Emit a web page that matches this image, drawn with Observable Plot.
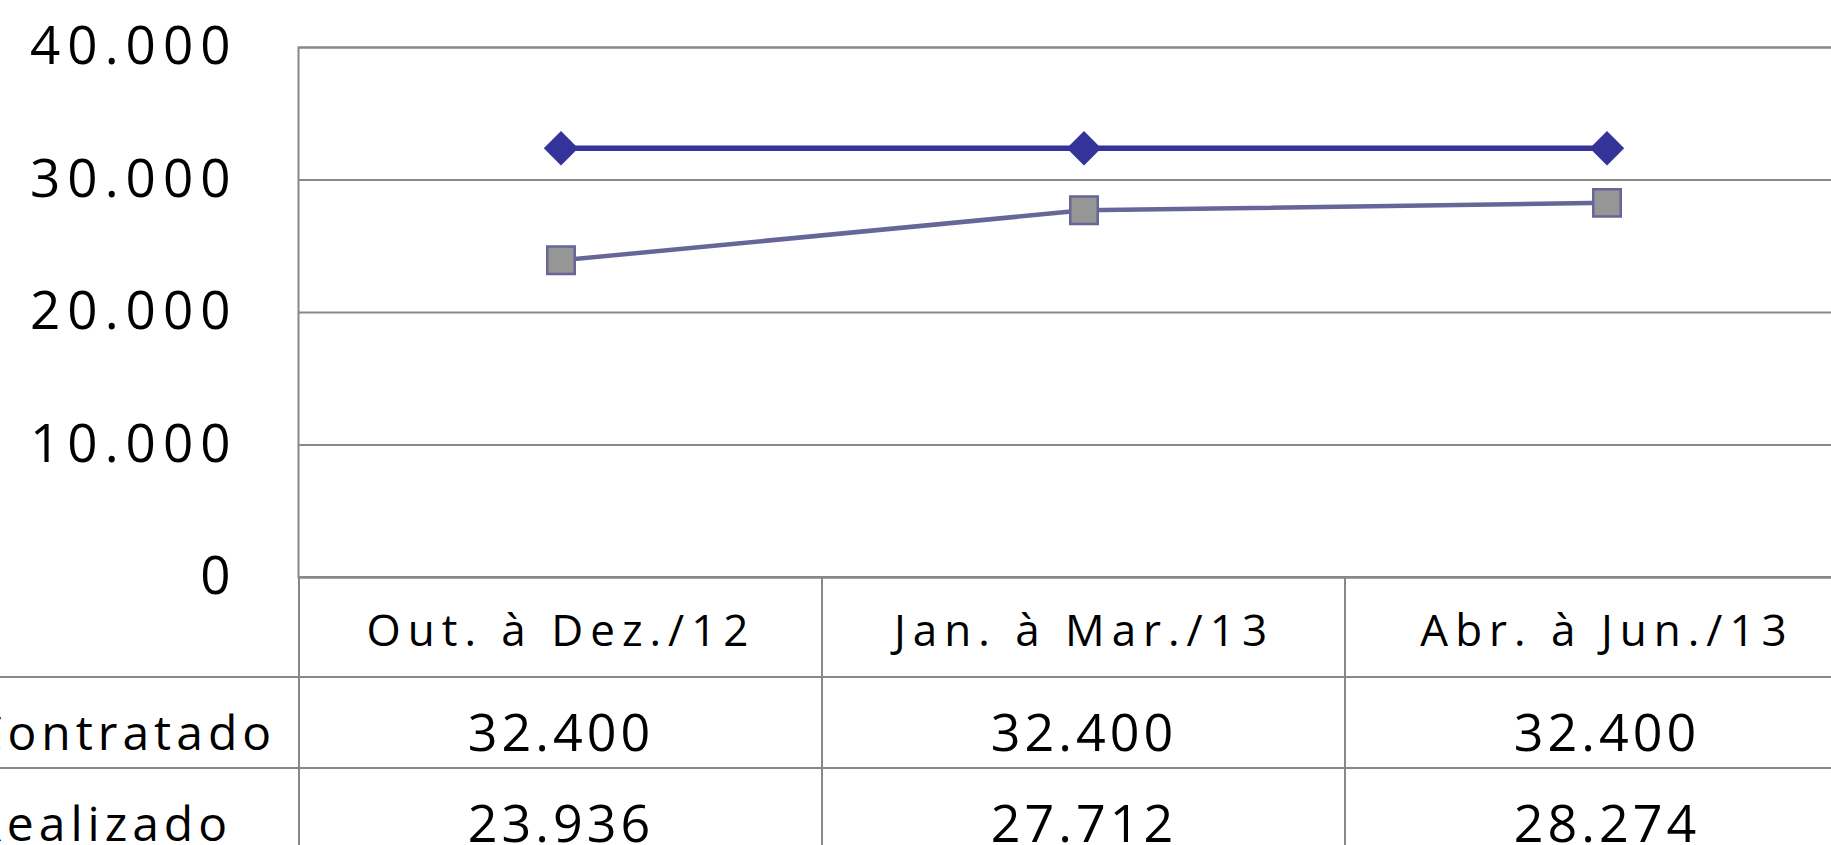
<!DOCTYPE html>
<html>
<head>
<meta charset="utf-8">
<script src="https://cdn.jsdelivr.net/npm/d3@7"></script>
<script src="https://cdn.jsdelivr.net/npm/@observablehq/plot@0.6"></script>
<style>
  html, body { margin: 0; padding: 0; background: #fff; overflow: hidden; }
  #wrap { position: relative; width: 1831px; height: 845px; overflow: hidden; background: #fff; }
  #wrap svg { position: absolute; left: 0; top: 0; max-width: none !important; }
  g[aria-label="y-axis tick label"] { letter-spacing: 7px; }
  g[font-size="44"] { letter-spacing: 7px; }
  g[font-size="52"] { letter-spacing: 4px; }
  g[font-size="48"] { letter-spacing: 5px; }
</style>
</head>
<body>
<div id="wrap"></div>
<script>
// ---- data ----
const categories = ["Out. à Dez./12", "Jan. à Mar./13", "Abr. à Jun./13"];
const seriesNames = ["Contratado", "Realizado"];
const contratado = [32400, 32400, 32400];
const realizado = [23936, 27712, 28274];
const yTicks = [0, 10000, 20000, 30000, 40000];

// ---- formatting (pt-BR) ----
const locale = d3.formatLocale({decimal: ",", thousands: ".", grouping: [3], currency: ["R$", ""]});
const fmt = locale.format(",.0f");

// ---- layout ----
const svgWidth = 1880;
const plotLeft = 298, plotRight = 1869, plotTop = 47, plotBottom = 577;
const colW = (plotRight - plotLeft) / categories.length;
const colors = {Contratado: "#333399", Realizado: "#666699"};
const gridColor = "#888888";

const seriesValues = {Contratado: contratado, Realizado: realizado};
const points = seriesNames.flatMap(s => categories.map((c, i) => ({series: s, cat: c, value: seriesValues[s][i]})));

const baseStyle = {fontFamily: "Open Sans", color: "#000", background: "transparent", overflow: "visible", maxWidth: "none"};

const chart = Plot.plot({
  width: svgWidth,
  height: plotBottom + 23,
  marginLeft: plotLeft,
  marginRight: svgWidth - plotRight,
  marginTop: plotTop,
  marginBottom: 23,
  style: {...baseStyle, fontSize: "53px"},
  x: {type: "band", domain: categories, padding: 0, axis: null},
  y: {domain: [0, 40000], ticks: yTicks, tickFormat: fmt, tickSize: 0, tickPadding: 61, label: null},
  marks: [
    Plot.ruleY(yTicks, {stroke: gridColor, strokeWidth: 2}),
    Plot.frame({stroke: gridColor, strokeWidth: 2}),
    Plot.line(points.filter(d => d.series === "Contratado"), {x: "cat", y: "value", stroke: colors.Contratado, strokeWidth: 5.5}),
    Plot.line(points.filter(d => d.series === "Realizado"), {x: "cat", y: "value", stroke: colors.Realizado, strokeWidth: 4.5}),
    Plot.dot(points.filter(d => d.series === "Contratado"), {x: "cat", y: "value", symbol: "diamond2", r: 15.5, fill: colors.Contratado, stroke: "none"}),
    Plot.dot(points.filter(d => d.series === "Realizado"), {x: "cat", y: "value", symbol: "square", r: 15.5, fill: "#969696", stroke: colors.Realizado, strokeWidth: 2.5})
  ]
});

// ---- data table below the chart ----
const labelCol = "__rotulo__";
const tableCols = [labelCol, ...categories];
const cells = [];
categories.forEach(c => cells.push({col: c, r: 0}));
seriesNames.forEach((s, si) => tableCols.forEach(c => cells.push({col: c, r: si + 1})));

const headerTexts = categories.map(c => ({col: c, r: 0, text: c}));
const valueTexts = seriesNames.flatMap((s, si) => categories.map((c, i) => ({col: c, r: si + 1, text: fmt(seriesValues[s][i])})));
const rowLabels = seriesNames.map((s, si) => ({col: labelCol, r: si + 1, text: s}));

const table = Plot.plot({
  width: svgWidth,
  height: 880,
  marginLeft: 0, marginRight: 0, marginTop: 0, marginBottom: 0,
  style: {...baseStyle, fontSize: "48px"},
  x: {type: "band", domain: tableCols, range: [plotLeft - colW, plotRight], padding: 0, axis: null},
  y: {type: "linear", domain: [0, 1, 2, 3], range: [plotBottom, 677, 768, 859], axis: null},
  marks: [
    Plot.barY(cells, {x: "col", y1: d => d.r, y2: d => d.r + 1, fill: "none", stroke: gridColor, strokeWidth: 2, inset: 0}),
    Plot.text(headerTexts, {x: "col", y: d => d.r + 0.5, text: "text", fontSize: 44, dy: 4, fill: "#000"}),
    Plot.text(valueTexts, {x: "col", y: d => d.r + 0.5, text: "text", fontSize: 52, dy: 11, fill: "#000"}),
    Plot.text(rowLabels, {x: "col", y: d => d.r + 0.5, text: "text", fontSize: 48, textAnchor: "start", dx: -colW / 2 + 196, dy: 12, fill: "#000"})
  ]
});

const wrap = document.getElementById("wrap");
wrap.appendChild(chart);
wrap.appendChild(table);
</script>
</body>
</html>
